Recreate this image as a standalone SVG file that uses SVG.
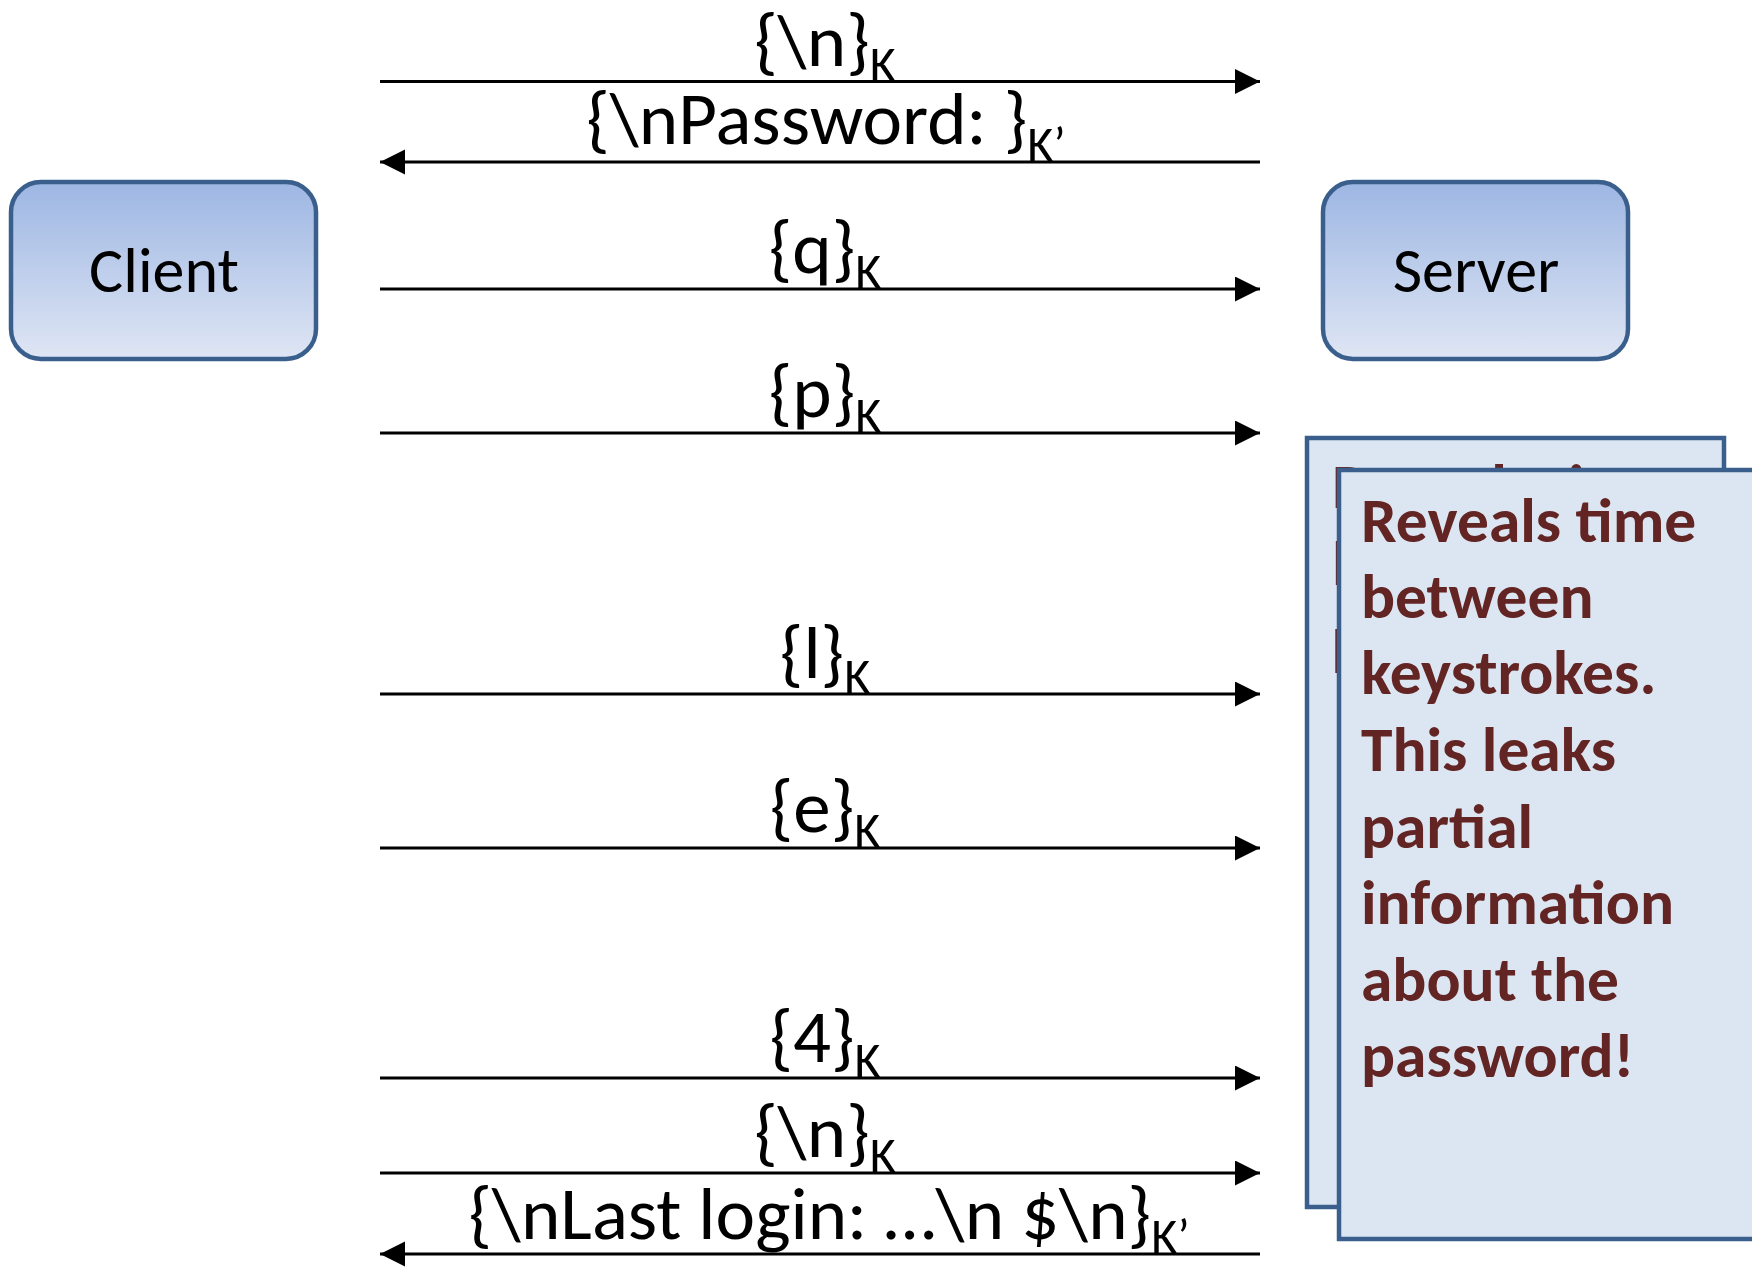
<svg xmlns="http://www.w3.org/2000/svg" width="1752" height="1267" viewBox="0 0 1752 1267">
<defs>
<linearGradient id="boxGrad" x1="0" y1="0" x2="0" y2="1">
<stop offset="0" stop-color="#9db6e3"/>
<stop offset="1" stop-color="#dfe6f4"/>
</linearGradient>
<marker id="arrowEnd" markerUnits="userSpaceOnUse" markerWidth="26" markerHeight="26" refX="25" refY="12.5" orient="auto">
<path d="M0,0 L25,12.5 L0,25 Z" fill="#000"/>
</marker>
<clipPath id="backClip"><rect x="1309" y="440" width="413" height="765"/></clipPath>
<style>
.node{fill:url(#boxGrad);stroke:#3b5f8c;stroke-width:4.5}
.nodeText{font-family:Carlito,Lato,"Liberation Sans",sans-serif;font-size:64px;fill:#000;text-anchor:middle}
.msg{stroke:#000;stroke-width:3;fill:none;marker-end:url(#arrowEnd)}
.lbl{font-family:Carlito,Lato,"Liberation Sans",sans-serif;font-size:75px;fill:#000;text-anchor:middle}
.sub{font-size:50px}
.note{fill:#dce6f2;stroke:#3b5f8c;stroke-width:4.5}
.noteText{font-family:Carlito,Lato,"Liberation Sans",sans-serif;font-size:63.5px;font-weight:bold;fill:#632523}
</style>
</defs>
<g id="client">
<rect class="node" x="11" y="182" width="305" height="177" rx="30" ry="30"/>
<text class="nodeText" x="164" y="292">Client</text>
</g>
<g id="server">
<rect class="node" x="1323" y="182" width="305" height="177" rx="30" ry="30"/>
<text class="nodeText" x="1476" y="292">Server</text>
</g>
<g id="connectors">
<line class="msg" x1="380" y1="81.5" x2="1260" y2="81.5"/>
<line class="msg" x1="1260" y1="162" x2="380" y2="162"/>
<line class="msg" x1="380" y1="289" x2="1260" y2="289"/>
<line class="msg" x1="380" y1="433" x2="1260" y2="433"/>
<line class="msg" x1="380" y1="694" x2="1260" y2="694"/>
<line class="msg" x1="380" y1="848" x2="1260" y2="848"/>
<line class="msg" x1="380" y1="1078" x2="1260" y2="1078"/>
<line class="msg" x1="380" y1="1173" x2="1260" y2="1173"/>
<line class="msg" x1="1260" y1="1254" x2="380" y2="1254"/>
<text class="lbl" x="825" y="65.5">{\n}<tspan class="sub" dy="15">K</tspan></text>
<text class="lbl" x="826" y="144">{\nPassword: }<tspan class="sub" dy="17">K’</tspan></text>
<text class="lbl" x="825" y="273">{q}<tspan class="sub" dy="15">K</tspan></text>
<text class="lbl" x="825" y="417">{p}<tspan class="sub" dy="15">K</tspan></text>
<text class="lbl" x="825" y="678">{l}<tspan class="sub" dy="15">K</tspan></text>
<text class="lbl" x="825" y="832">{e}<tspan class="sub" dy="15">K</tspan></text>
<text class="lbl" x="825" y="1062">{4}<tspan class="sub" dy="15">K</tspan></text>
<text class="lbl" x="825" y="1157">{\n}<tspan class="sub" dy="15">K</tspan></text>
<text class="lbl" x="829" y="1239">{\nLast login: …\n $\n}<tspan class="sub" dy="14">K’</tspan></text>
</g>
<g id="note-back">
<rect class="note" x="1307" y="438" width="417" height="769"/>
<g clip-path="url(#backClip)">
<text class="noteText" x="1332" y="508">Reveals time</text>
<text class="noteText" x="1332" y="585">between</text>
<text class="noteText" x="1332" y="673">keystrokes.</text>
</g>
</g>
<g id="note-front">
<rect class="note" x="1339" y="470" width="430" height="769"/>
<text class="noteText" x="1361" y="542">Reveals time</text>
<text class="noteText" x="1361" y="618">between</text>
<text class="noteText" x="1361" y="694">keystrokes.</text>
<text class="noteText" x="1361" y="771">This leaks</text>
<text class="noteText" x="1361" y="848">partial</text>
<text class="noteText" x="1361" y="924">information</text>
<text class="noteText" x="1361" y="1001">about the</text>
<text class="noteText" x="1361" y="1077">password!</text>
</g>
</svg>
